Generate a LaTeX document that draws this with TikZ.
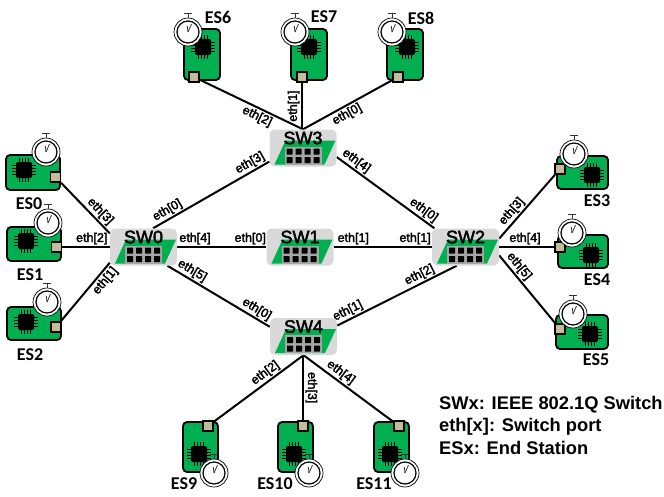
\documentclass[tikz,border=0pt]{standalone}
\usepackage{fontspec}
\usepackage{xcolor}
\usepackage{tikz}
\usetikzlibrary{backgrounds}
\setmainfont{Liberation Sans}
\newfontfamily\calibrifont{Carlito}
\newfontfamily\heavyfont[FakeBold=2.5]{Liberation Sans}
\definecolor{boardgreen}{HTML}{00B050}
\definecolor{porttan}{HTML}{C4BD97}
\definecolor{swgray}{HTML}{D9D9D9}
\definecolor{jackgray}{HTML}{A6A6A6}

\begin{document}
\begin{tikzpicture}[
    x=1pt, y=-1pt,
    board/.style={draw=black, line width=1.8pt, fill=boardgreen, rounded corners=4pt, inner sep=0pt},
    chip/.style={fill=black, rounded corners=2pt, minimum size=16pt, inner sep=0pt},
    pin/.style={draw=black, line width=0.8pt},
    port/.style={draw=black, line width=1.6pt, fill=porttan, minimum size=10pt, inner sep=0pt},
    clockrim/.style={circle, draw=black, line width=0.7pt, fill=white, minimum size=28pt, inner sep=0pt},
    clockface/.style={circle, draw=black, line width=1.2pt, fill=white, minimum size=22pt, inner sep=0pt},
    hand/.style={draw=black!80, line width=0.8pt},
    eslabel/.style={font=\calibrifont\bfseries\fontsize{18}{20}\selectfont, inner sep=0pt},
    switchbox/.style={fill=swgray, rounded corners=5pt, minimum width=67pt, minimum height=37pt, inner sep=0pt},
    swlabel/.style={font=\heavyfont\fontsize{18}{20}\selectfont, inner sep=0pt},
    link/.style={draw=black, line width=2pt},
    ethtext/.style={font=\heavyfont\fontsize{12.5}{14}\selectfont, inner sep=1.5pt},
    eth/.style={ethtext, sloped},
    legend/.style={font=\bfseries\fontsize{18.3}{22.5}\selectfont, align=left, inner sep=0pt, anchor=west}
]
    \useasboundingbox (0,0) rectangle (664,496);

    \foreach \name/\txt/\bx/\by/\bw/\bh/\px/\py/\cx/\cy/\ix/\iy/\lx/\ly in {
        es0/ES0/33/172.5/54/35/55.5/177/46/152/24/170/29/204,
        es1/ES1/34/244/54/34/56.5/247/48/223/26/241/30/275,
        es2/ES2/34/323.5/54/33/56/327/47/302/26/322/30/355,
        es3/ES3/582.5/172.5/51/33/560/169/574/154/592/175/597/201,
        es4/ES4/583/251.5/50/33/560/247/572/233/591/255/597/280,
        es5/ES5/582/332/52/34/560/329/573/314/590/334/596/360,
        es6/ES6/202/54.5/36/51/194/77/188/32/203/47/218/17,
        es7/ES7/309/54.5/36/51/302/77/295/32/309/47/324/17,
        es8/ES8/405/54.5/36/51/398/77/392/32/407/47/421/18,
        es9/ES9/200.5/447/35/50/208/426/214/473/199/454/184/484,
        es10/ES10/295.5/447/35/50/303/426/309/473/294/454/275/484,
        es11/ES11/391.5/447/35/50/399/426/405/473/390/454/374/484}
    {
        \node[board, minimum width=\bw pt, minimum height=\bh pt] (\name board) at (\bx,\by) {};
        \foreach \d in {-4.5,-1.5,1.5,4.5}
            \draw[pin, shift={(\ix,\iy)}] (\d,-12) -- (\d,12) (-12,\d) -- (12,\d);
        \node[chip] (\name chip) at (\ix,\iy) {};
        \node[port] (\name) at (\px,\py) {};
        \node[clockrim] (\name clock) at (\cx,\cy) {};
        \node[clockface] at (\name clock) {};
        \draw[hand] (\name clock.center) -- ++(3.5,-8);
        \draw[hand] (\name clock.center) -- ++(-0.7,-6);
        \draw[hand] (\name clock.north) -- ++(0,-4) ++(-4,0) -- ++(8,0);
        \node[eslabel] (\name label) at (\lx,\ly) {\txt};
    }

    \foreach \name/\txt/\sx/\sy in {sw0/SW0/143.5/247, sw1/SW1/300/247, sw2/SW2/465.5/247, sw3/SW3/303/148, sw4/SW4/303.5/336.5}
    {
        \node[switchbox] (\name) at (\sx,\sy) {};
        \fill[boardgreen, shift={(\sx,\sy)}] (-28.5,16.5) -- (21.5,16.5) -- (32.5,-7.5) -- (-17.5,-7.5) -- cycle;
        \fill[jackgray, shift={(\sx,\sy)}] (-18.5,-1.5) rectangle (18.5,16.5);
        \foreach \jx in {-13.5,-4.5,4.5,13.5}
            \foreach \jy in {3.5,12}
                \fill[black, rounded corners=0.5pt, shift={(\sx,\sy)}] (\jx-3,\jy-3) rectangle (\jx+3,\jy+3);
        \node[swlabel] (\name label) at (\sx,\sy-10) {\txt};
    }

    \begin{scope}[on background layer]
        \draw[link] (es0) -- (sw0.158) node[eth, pos=0.68, above] {eth[3]};
        \draw[link] (es1) -- (sw0.west |- es1) node[eth, pos=0.62, above] {eth[2]};
        \draw[link] (es2) -- (sw0.205) node[eth, pos=0.78, below] {eth[1]};
        \draw[link] (sw0.63) -- (sw3.202) node[eth, pos=0.16, above] {eth[0]} node[eth, pos=0.87, above] {eth[3]};
        \draw[link] (sw0) -- (sw1) node[eth, pos=0.2, above] {eth[4]} node[eth, pos=0.82, above] {eth[0]};
        \draw[link] (sw1) -- (sw2) node[eth, pos=0.2, above] {eth[1]} node[eth, pos=0.83, above] {eth[1]};
        \draw[link] (sw0.-38) -- (sw4.164) node[eth, pos=0.2, above] {eth[5]} node[eth, pos=0.83, above] {eth[0]};
        \draw[link] (sw4.18) -- (sw2.245) node[eth, pos=0.12, above] {eth[1]} node[eth, pos=0.72, above] {eth[2]};
        \draw[link] (sw3.-15) -- (sw2.149) node[eth, pos=0.15, above] {eth[4]} node[eth, pos=0.84, above] {eth[0]};
        \draw[link] (sw2.14) -- (es3) node[eth, pos=0.34, above] {eth[3]};
        \draw[link] (sw2) -- (es4) node[eth, pos=0.47, above] {eth[4]};
        \draw[link] (sw2.-14) -- (es5) node[eth, pos=0.24, above] {eth[5]};
        \draw[link] (es6) -- (sw3.north) node[eth, pos=0.59, below] {eth[2]};
        \draw[link] (es7 |- sw3.north) -- (es7) node[eth, pos=0.5, above] {eth[1]};
        \draw[link] (es8) -- (sw3.north) node[eth, pos=0.55, below] {eth[0]};
        \draw[link] (sw4.south) -- (es9) node[eth, pos=0.37, above] {eth[2]};
        \draw[link] (es10 |- sw4.south) -- (es10) node[ethtext, pos=0.5, anchor=south, rotate=-90] {eth[3]};
        \draw[link] (sw4.south) -- (es11) node[eth, pos=0.36, above] {eth[4]};
    \end{scope}

    \node[legend] (legend) at (439,425) {SWx: IEEE 802.1Q Switch\\eth[x]: Switch port\\ESx: End Station};
\end{tikzpicture}
\end{document}
